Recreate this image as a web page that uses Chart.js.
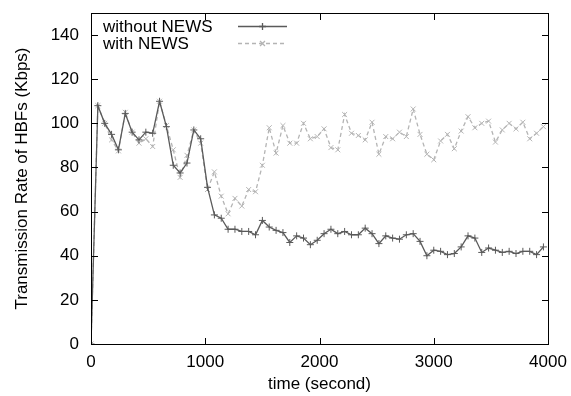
<!DOCTYPE html>
<html><head><meta charset="utf-8">
<script src="https://cdn.jsdelivr.net/npm/chart.js@4/dist/chart.umd.min.js"></script>
<style>html,body{margin:0;padding:0;background:#fff}#wrap{width:571px;height:396px}</style>
</head><body><div id="wrap"><canvas id="c" width="571" height="396"></canvas></div>
<script>
const times = [0,60,120,180,240,300,360,420,480,540,600,660,720,780,840,900,960,1020,1080,1140,1200,1260,1320,1380,1440,1500,1560,1620,1680,1740,1800,1860,1920,1980,2040,2100,2160,2220,2280,2340,2400,2460,2520,2580,2640,2700,2760,2820,2880,2940,3000,3060,3120,3180,3240,3300,3360,3420,3480,3540,3600,3660,3720,3780,3840,3900,3960];
const withoutNews = [0,108,100,95,88,104.5,96,92.5,96,95.5,110,98.5,81,77.5,82,97,93,71,58.5,57,52,52,51,51,49.5,56,53,51.5,50.5,46,49,48,45,47,50,52,50,51,49.5,49.5,52.5,50,45.5,49,48,47.5,49.5,50,46.5,40,42.5,42,40.5,41,44,49,48,41.5,43.5,42.5,41.5,42,41,42,42,40.5,44];
const withNews = [0,108,100,92.5,87.5,105,96,91,93,89.5,110,99,88,75.5,85.5,97,91,70,78,67,59,66,62.5,70,69,81,98,86.5,99,91,91,100,93,94,97.5,89,88,104,95.5,94.5,92.5,100.5,86,94,93,96,94,106.5,95,86,83.5,92,95,88.5,96.5,103,98,100,101,91.5,97,100,97.5,100.5,93,95.5,98.5];
const seriesNames = ["without NEWS","with NEWS"];
const xTickValues = [0,1000,2000,3000,4000];
const yTickValues = [0,20,40,60,80,100,120,140];
const xLabel = "time (second)";
const yLabel = "Transmission Rate of HBFs (Kbps)";

const FONT = "'Liberation Sans', Arial, sans-serif";
const FS = 17;
const darkColor = '#5a5a5a';
const lightColor = '#b4b4b4';

const frame = {
  id:'frame',
  afterDraw(chart){
    const ctx = chart.ctx;
    const xs = chart.scales.x, ys = chart.scales.y;
    ctx.save();
    ctx.fillStyle = '#000';
    const L = Math.round(xs.getPixelForValue(0)), R = Math.round(xs.getPixelForValue(4000));
    const T = Math.round(ys.getPixelForValue(150)), B = Math.round(ys.getPixelForValue(0));
    ctx.fillRect(L, T, R-L+1, 1);
    ctx.fillRect(L, B, R-L+1, 1);
    ctx.fillRect(L, T, 1, B-T+1);
    ctx.fillRect(R, T, 1, B-T+1);
    const tl = 6;
    xTickValues.forEach(v=>{
      const px = Math.round(xs.getPixelForValue(v));
      ctx.fillRect(px, B-tl, 1, tl);
      ctx.fillRect(px, T+1, 1, tl);
    });
    yTickValues.forEach(v=>{
      const py = Math.round(ys.getPixelForValue(v));
      ctx.fillRect(L+1, py, tl, 1);
      ctx.fillRect(R-tl, py, tl, 1);
    });
    // legend
    ctx.font = FS + 'px ' + FONT;
    ctx.fillStyle = '#000';
    ctx.textBaseline = 'middle';
    ctx.textAlign = 'left';
    const rows = [27, 44];
    chart.data.datasets.forEach((ds,i)=>{
      const y = rows[i];
      ctx.fillText(ds.label, 103, y);
      ctx.save();
      ctx.strokeStyle = ds.borderColor; ctx.lineWidth = ds.borderWidth;
      ctx.setLineDash(ds.borderDash || []);
      ctx.beginPath(); ctx.moveTo(238, y-0.5); ctx.lineTo(287, y-0.5); ctx.stroke();
      ctx.setLineDash([]);
      Chart.helpers.drawPoint(ctx, {pointStyle: ds.pointStyle, radius: ds.pointRadius, borderWidth: 1}, 262.5, y-0.5);
      ctx.restore();
    });
    ctx.restore();
  }
};

new Chart(document.getElementById('c'), {
  type:'line',
  data:{
    datasets:[
      {label: seriesNames[0], data: times.map((t,i)=>({x:t,y:withoutNews[i]})),
       borderColor: darkColor, backgroundColor: darkColor, borderWidth: 1.3,
       pointStyle:'cross', pointRadius:3.5, pointBorderWidth:1, pointBorderColor: darkColor, tension:0},
      {label: seriesNames[1], data: times.map((t,i)=>({x:t,y:withNews[i]})),
       borderColor: lightColor, backgroundColor: lightColor, borderWidth: 1.3, borderDash:[4,3],
       pointStyle:'crossRot', pointRadius:3.5, pointBorderWidth:1, pointBorderColor: lightColor, tension:0}
    ]
  },
  options:{
    responsive:false, animation:false, devicePixelRatio:1,
    layout:{autoPadding:false, padding:{top:13, right:23, left:0, bottom:0}},
    plugins:{legend:{display:false}, tooltip:{enabled:false}},
    scales:{
      x:{type:'linear', min:0, max:4000,
        afterBuildTicks(s){ s.ticks = xTickValues.map(v=>({value:v})); },
        afterFit(s){ s.height = 52; s.paddingLeft = 0; s.paddingRight = 0; },
        grid:{display:false, drawTicks:false}, border:{display:false},
        ticks:{padding:8, color:'#000', font:{family:FONT, size:FS}, maxRotation:0, autoSkip:false,
          callback:(v)=>String(v)},
        title:{display:true, text:xLabel, color:'#000', font:{family:FONT, size:FS}, padding:{top:0,bottom:1}}
      },
      y:{type:'linear', min:0, max:150,
        afterBuildTicks(s){ s.ticks = yTickValues.map(v=>({value:v})); },
        afterFit(s){ s.width = 91; s.paddingTop = 0; s.paddingBottom = 0; },
        grid:{display:false, drawTicks:false}, border:{display:false},
        ticks:{padding:12, color:'#000', font:{family:FONT, size:FS}, autoSkip:false,
          callback:(v)=>String(v)},
        title:{display:true, text:yLabel, color:'#000', font:{family:FONT, size:FS}, padding:{top:12,bottom:0}}
      }
    }
  },
  plugins:[frame]
});
</script></body></html>
